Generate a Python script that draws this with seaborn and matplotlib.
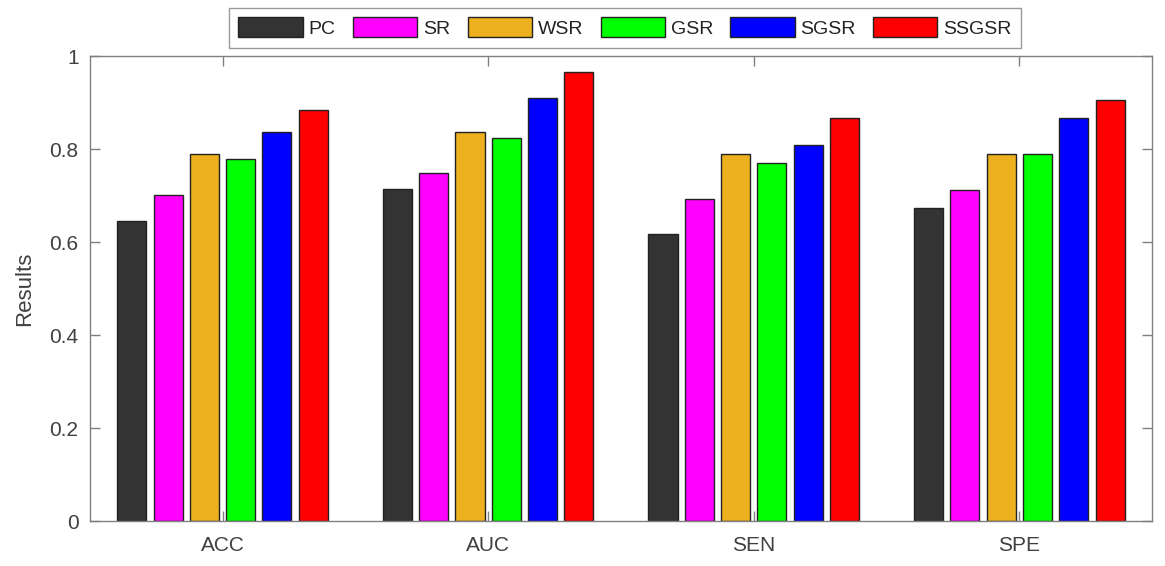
import matplotlib
matplotlib.use("Agg")
import matplotlib.pyplot as plt
from matplotlib.ticker import FuncFormatter
import pandas as pd
import seaborn as sns

metrics = ["ACC", "AUC", "SEN", "SPE"]
methods = ["PC", "SR", "WSR", "GSR", "SGSR", "SSGSR"]
pc = [0.645, 0.713, 0.617, 0.673]
sr = [0.702, 0.748, 0.692, 0.712]
wsr = [0.789, 0.837, 0.789, 0.789]
gsr = [0.779, 0.824, 0.769, 0.789]
sgsr = [0.837, 0.910, 0.808, 0.866]
ssgsr = [0.885, 0.966, 0.866, 0.905]
colors = ["#333333", "#ff00ff", "#edb120", "#00ff00", "#0000ff", "#ff0000"]

series = dict(zip(methods, [pc, sr, wsr, gsr, sgsr, ssgsr]))
df = pd.DataFrame(
    [(m, meth, v) for meth, vals in series.items() for m, v in zip(metrics, vals)],
    columns=["metric", "method", "value"],
)

sns.set_theme(style="white")
plt.rcParams["font.family"] = ["Liberation Sans", "DejaVu Sans"]
text_col = "#404040"

fig = plt.figure(figsize=(11.65, 5.66), dpi=100)
ax = fig.add_axes([0.077, 0.0795, 0.912, 0.8215])
sns.barplot(data=df, x="metric", y="value", hue="method", order=metrics,
            hue_order=methods, palette=colors, width=0.82, gap=0.2,
            edgecolor="#222222", linewidth=1.0, saturation=1, ax=ax,
            legend=True)

ax.set_xlim(-0.5, 3.5)
ax.set_ylim(0, 1)
ax.set_yticks([0, 0.2, 0.4, 0.6, 0.8, 1.0])
ax.yaxis.set_major_formatter(FuncFormatter(lambda v, p: f"{v:g}"))
ax.set_xlabel("")
ax.set_ylabel("Results", fontsize=16, color=text_col, labelpad=10)
ax.tick_params(axis="both", direction="in", length=7, width=1, color="#808080",
               labelsize=15, labelcolor=text_col, top=True, right=True,
               bottom=True, left=True)
ax.tick_params(axis="x", pad=11)
ax.tick_params(axis="y", pad=8)
for s in ax.spines.values():
    s.set_visible(True)
    s.set_color("#808080")
    s.set_linewidth(1.0)

handles, labels = ax.get_legend_handles_labels()
ax.get_legend().remove()
leg = fig.legend(handles, labels, loc="center", bbox_to_anchor=(0.5365, 0.951),
                 ncol=6, fontsize=14, frameon=True, fancybox=False,
                 edgecolor="#808080", handlelength=3.3, handleheight=1.2,
                 columnspacing=0.9, handletextpad=0.3, borderpad=0.5,
                 borderaxespad=0)
leg.get_frame().set_linewidth(1.0)
for t in leg.get_texts():
    t.set_color("#222222")

fig.savefig("out.png", dpi=100)
